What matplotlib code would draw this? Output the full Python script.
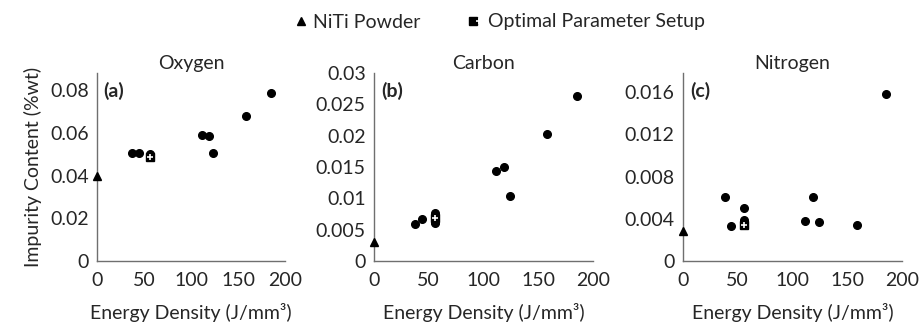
import matplotlib
matplotlib.use("Agg")
import matplotlib.pyplot as plt
from matplotlib.legend_handler import HandlerTuple
from matplotlib.lines import Line2D

plt.rcParams['font.family'] = ['Lato', 'DejaVu Sans']

# energy density (J/mm3) and impurity content (%wt)
oxy_x = [37, 45, 56, 56, 112, 119, 123, 158, 185]
oxy_y = [0.0505, 0.0505, 0.0503, 0.0495, 0.0592, 0.0584, 0.0505, 0.0678, 0.0785]
oxy_opt_x = [56]
oxy_opt_y = [0.0485]
oxy_powder = [0.0400]

carb_x = [37, 44, 56, 56, 56, 111, 119, 124, 158, 185]
carb_y = [0.0059, 0.0067, 0.0060, 0.0063, 0.0077, 0.0143, 0.0150, 0.0104, 0.0203, 0.0264]
carb_opt_x = [56]
carb_opt_y = [0.0069]
carb_powder = [0.0031]

nit_x = [38, 44, 56, 56, 111, 119, 124, 159, 185]
nit_y = [0.0061, 0.0033, 0.0050, 0.0039, 0.0038, 0.0061, 0.0037, 0.0034, 0.0158]
nit_opt_x = [56]
nit_opt_y = [0.0034]
nit_powder = [0.0028]

panels = [
    ('Oxygen', '(a)', oxy_x, oxy_y, oxy_opt_x, oxy_opt_y, oxy_powder,
     [0, 0.02, 0.04, 0.06, 0.08], 0.088),
    ('Carbon', '(b)', carb_x, carb_y, carb_opt_x, carb_opt_y, carb_powder,
     [0, 0.005, 0.01, 0.015, 0.02, 0.025, 0.03], 0.03),
    ('Nitrogen', '(c)', nit_x, nit_y, nit_opt_x, nit_opt_y, nit_powder,
     [0, 0.004, 0.008, 0.012, 0.016], 0.0178),
]
x_ticks = [0, 50, 100, 150, 200]

fig = plt.figure(figsize=(9.19, 3.31), dpi=100)
lefts = [97 / 919, 374 / 919, 683 / 919]
widths = [188 / 919, 219 / 919, 219 / 919]
bottom, height = 1 - 261 / 331, 188 / 331

txt = '#262626'
spine = '#6f6f6f'
fs = 14

for i, (name, tag, xs, ys, ox, oy, pw, yt, ymax) in enumerate(panels):
    ax = fig.add_axes([lefts[i], bottom, widths[i], height])
    ax.plot(xs, ys, 'o', color='black', ms=5.5, ls='none', zorder=3)
    ax.plot(ox, oy, 's', color='black', ms=6, ls='none', zorder=4)
    ax.plot(ox, oy, '+', color='white', ms=4, mew=1.2, ls='none', zorder=5)
    ax.plot([0], pw, '^', color='black', ms=6, ls='none', zorder=4, clip_on=False)

    ax.set_xlim(0, 200)
    ax.set_ylim(0, ymax)
    ax.set_xticks(x_ticks)
    ax.set_xticklabels([str(v) for v in x_ticks])
    ax.set_yticks(yt)
    ax.set_yticklabels([f'{v:g}' for v in yt])
    ax.tick_params(length=0, labelsize=fs, colors=txt)
    ax.tick_params(axis='x', pad=8)
    ax.tick_params(axis='y', pad=6)
    for s in ['top', 'right']:
        ax.spines[s].set_visible(False)
    for s in ['left', 'bottom']:
        ax.spines[s].set_color(spine)
        ax.spines[s].set_linewidth(1.0)

    ax.set_title(name, fontsize=fs, color=txt, pad=3)
    ax.text(0.035, 0.905, tag, transform=ax.transAxes, fontsize=fs,
            fontweight='bold', color=txt, va='center', ha='left')
    ax.set_xlabel('Energy Density (J/mm³)', fontsize=fs, color=txt, labelpad=10)
    if i == 0:
        ax.set_ylabel('Impurity Content (%wt)', fontsize=fs, color=txt, labelpad=6)

h_pow = Line2D([], [], marker='^', color='black', ls='none', ms=6)
h_sq = Line2D([], [], marker='s', color='black', ls='none', ms=6)
h_pl = Line2D([], [], marker='+', color='white', ls='none', ms=4, mew=1.2)
fig.legend([h_pow, (h_sq, h_pl)], ['NiTi Powder', 'Optimal Parameter Setup'],
           handler_map={tuple: HandlerTuple(ndivide=None, pad=0)},
           loc='center', bbox_to_anchor=(500 / 919, 1 - 22 / 331), ncol=2,
           frameon=False, fontsize=fs, handlelength=0.6, handletextpad=0.3,
           columnspacing=2.6, labelcolor=txt)

fig.savefig('out.png', dpi=100)
